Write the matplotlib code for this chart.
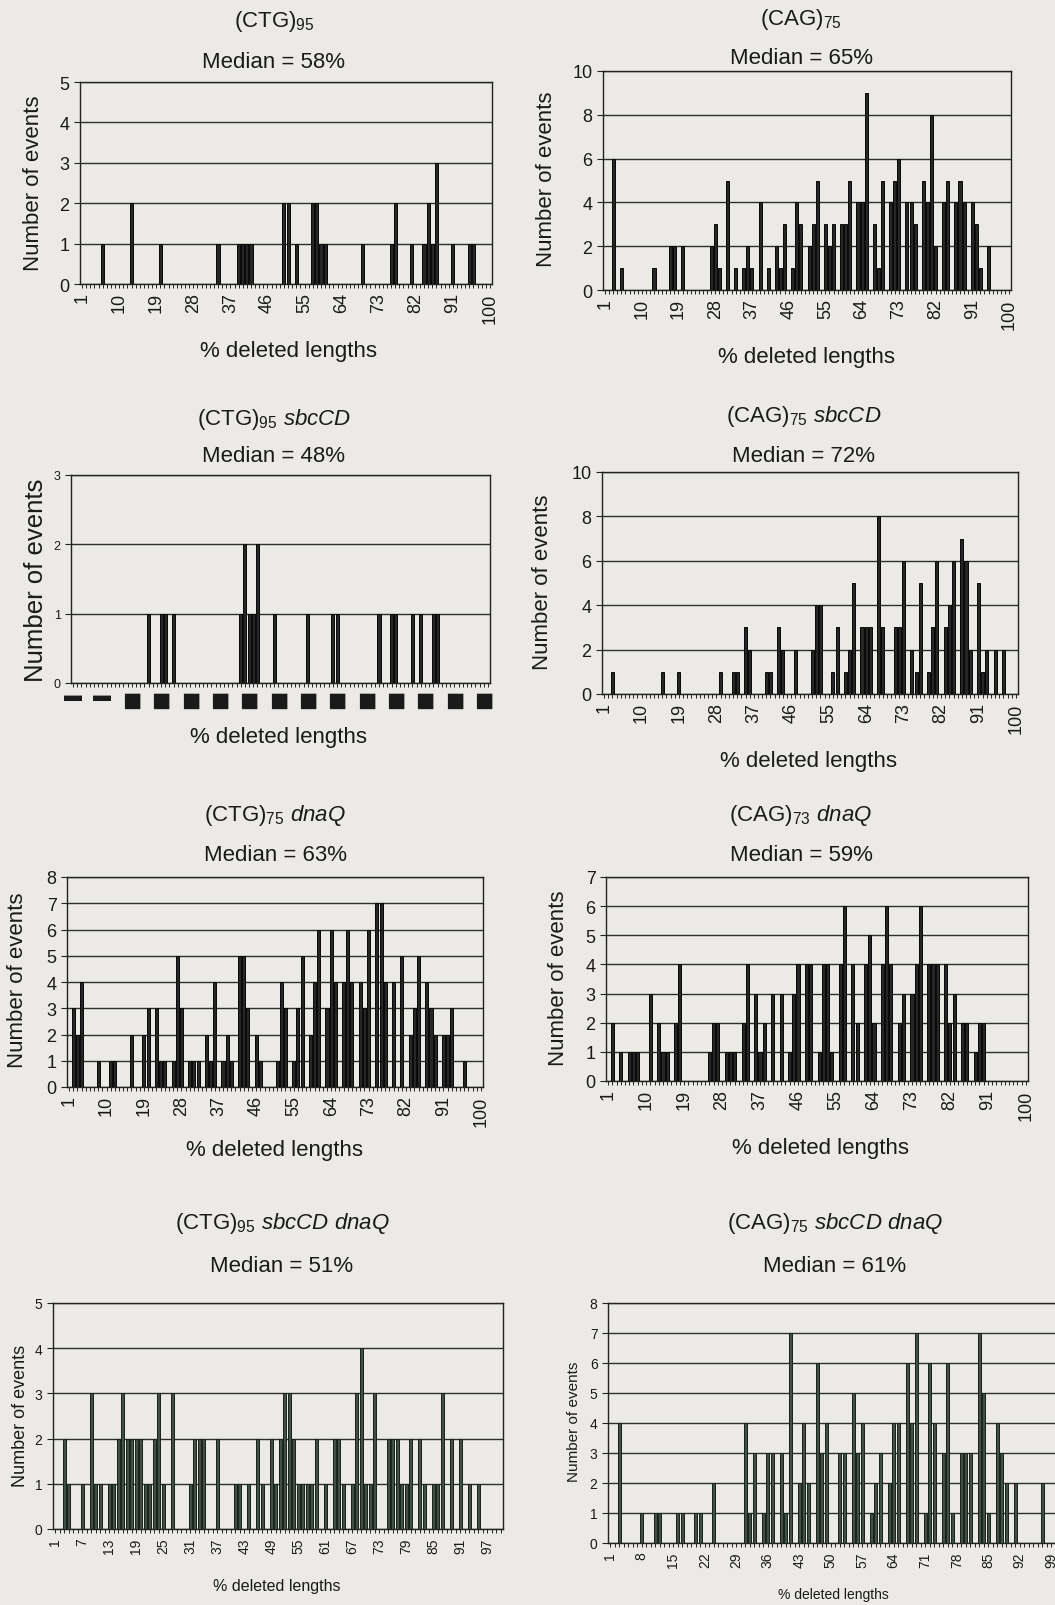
import matplotlib
matplotlib.use('Agg')
import matplotlib.pyplot as plt

plt.rcParams['font.family'] = ['Liberation Sans', 'DejaVu Sans']
plt.rcParams['mathtext.fontset'] = 'custom'
plt.rcParams['mathtext.rm'] = 'Liberation Sans'
plt.rcParams['mathtext.it'] = 'Liberation Sans:italic'

W, H = 1055, 1606
PAPER = '#ebeae6'
INK = '#1a1a1a'

# (CTG)95
ctg95_pos = [6, 13, 20, 34, 39, 40, 41, 42, 50, 51, 53, 57, 58, 59, 60, 69, 76, 77, 81, 84, 85, 86, 87, 91, 95, 96]
ctg95_n = [1, 2, 1, 1, 1, 1, 1, 1, 2, 2, 1, 2, 2, 1, 1, 1, 1, 2, 1, 1, 2, 1, 3, 1, 1, 1]

# (CAG)75
cag75_pos = [3, 5, 13, 17, 18, 20, 27, 28, 29, 31, 33, 35, 36, 37, 39, 41, 43, 44, 45, 47, 48, 49,
             51, 52, 53, 55, 56, 57, 59, 60, 61, 63, 64, 65, 67, 68, 69, 71, 72, 73, 75, 76, 77,
             79, 80, 81, 82, 84, 85, 87, 88, 89, 91, 92, 93, 95]
cag75_n = [6, 1, 1, 2, 2, 2, 2, 3, 1, 5, 1, 1, 2, 1, 4, 1, 2, 1, 3, 1, 4, 3,
           2, 3, 5, 3, 2, 3, 3, 3, 5, 4, 4, 9, 3, 1, 5, 4, 5, 6, 4, 4, 3,
           5, 4, 8, 2, 4, 5, 4, 5, 4, 4, 3, 1, 2]

# (CTG)95 sbcCD
ctg95_sbc_pos = [19, 22, 23, 25, 41, 42, 43, 44, 45, 49, 57, 63, 64, 74, 77, 78, 82, 84, 87, 88]
ctg95_sbc_n = [1, 1, 1, 1, 1, 2, 1, 1, 2, 1, 1, 1, 1, 1, 1, 1, 1, 1, 1, 1]

# (CAG)75 sbcCD
cag75_sbc_pos = [3, 15, 19, 29, 32, 33, 35, 36, 40, 41, 43, 44, 47, 51, 52, 53, 56, 57, 59, 60, 61,
                 63, 64, 65, 67, 68, 71, 72, 73, 75, 76, 77, 79, 80, 81, 83, 84, 85, 87, 88, 89,
                 91, 92, 93, 95, 97]
cag75_sbc_n = [1, 1, 1, 1, 1, 1, 3, 2, 1, 1, 3, 2, 2, 2, 4, 4, 1, 3, 1, 2, 5,
               3, 3, 3, 8, 3, 3, 3, 6, 2, 1, 5, 1, 3, 6, 3, 4, 6, 7, 6, 2,
               5, 1, 2, 2, 2]

# (CTG)75 dnaQ
ctg75_dna_pos = [2, 3, 4, 8, 11, 12, 16, 19, 20, 22, 23, 24, 26, 27, 28, 30, 31, 32, 34, 35, 36,
                 38, 39, 40, 42, 43, 44, 46, 47, 51, 52, 53, 55, 56, 57, 59, 60, 61, 63, 64, 65,
                 67, 68, 69, 71, 72, 73, 75, 76, 77, 79, 81, 83, 84, 85, 87, 88, 89, 91, 92, 93, 96]
ctg75_dna_n = [3, 2, 4, 1, 1, 1, 2, 2, 3, 3, 1, 1, 1, 5, 3, 1, 1, 1, 2, 1, 4,
               1, 2, 1, 5, 5, 3, 2, 1, 1, 4, 3, 1, 3, 5, 2, 4, 6, 3, 6, 4,
               4, 6, 4, 4, 3, 6, 7, 7, 4, 4, 5, 2, 3, 5, 4, 3, 2, 2, 2, 3, 1]

# (CAG)73 dnaQ
cag73_dna_pos = [2, 4, 6, 7, 8, 11, 13, 14, 15, 17, 18, 25, 26, 27, 29, 30, 31, 33, 34, 36, 37, 38,
                 40, 42, 44, 45, 46, 48, 49, 51, 52, 53, 54, 56, 57, 59, 60, 62, 63, 64, 66, 67,
                 68, 70, 71, 73, 74, 75, 77, 78, 79, 81, 82, 83, 85, 86, 88, 89, 90]
cag73_dna_n = [2, 1, 1, 1, 1, 3, 2, 1, 1, 2, 4, 1, 2, 2, 1, 1, 1, 2, 4, 3, 1, 2,
               3, 3, 1, 3, 4, 4, 4, 1, 4, 4, 1, 4, 6, 4, 2, 4, 5, 2, 4, 6,
               4, 2, 3, 3, 4, 6, 4, 4, 4, 4, 2, 3, 2, 2, 1, 2, 2]

# (CTG)95 sbcCD dnaQ
ctg95_both_pos = [3, 4, 7, 9, 10, 11, 13, 14, 15, 16, 17, 18, 19, 20, 21, 22, 23, 24, 25, 27,
                  31, 32, 33, 34, 37, 41, 42, 44, 46, 47, 49, 50, 51, 52, 53, 54, 55, 56, 57, 58,
                  59, 61, 63, 64, 65, 67, 68, 69, 70, 71, 72, 75, 76, 77, 78, 79, 80, 82, 83, 85,
                  86, 87, 89, 91, 93, 95]
ctg95_both_n = [2, 1, 1, 3, 1, 1, 1, 1, 2, 3, 2, 2, 2, 2, 1, 1, 2, 3, 1, 3,
                1, 2, 2, 2, 2, 1, 1, 1, 2, 1, 2, 1, 2, 3, 3, 2, 1, 1, 1, 1,
                2, 1, 2, 2, 1, 1, 3, 4, 1, 1, 3, 2, 2, 2, 1, 1, 2, 2, 1, 1,
                1, 3, 2, 2, 1, 1]

# (CAG)75 sbcCD dnaQ
cag75_both_pos = [3, 8, 11, 12, 16, 17, 20, 21, 24, 31, 32, 33, 35, 36, 37, 39, 40, 41, 43, 44, 45,
                  47, 48, 49, 52, 53, 55, 56, 57, 59, 60, 61, 63, 64, 65, 67, 68, 69, 71, 72, 73,
                  75, 76, 77, 79, 80, 81, 83, 84, 85, 87, 88, 89, 91, 97]
cag75_both_n = [4, 1, 1, 1, 1, 1, 1, 1, 2, 4, 1, 3, 1, 3, 3, 3, 1, 7, 2, 4, 2,
                6, 3, 4, 3, 3, 5, 3, 4, 1, 2, 3, 2, 4, 4, 6, 4, 7, 1, 6, 4,
                3, 6, 1, 3, 3, 3, 7, 5, 1, 4, 3, 2, 2, 2]


def box(l, t, r, b):
    return [l / W, 1 - b / H, (r - l) / W, (b - t) / H]


def draw_panel(rect, pos, n, ymax, step, tick_fs, ytick_fs=None, ystep=1,
               face='#262626', edge='#080808'):
    ax = fig.add_axes(box(*rect))
    ax.set_facecolor(PAPER)
    ax.bar(pos, n, width=0.74, color=face, edgecolor=edge, linewidth=0.7, zorder=3)
    ax.set_xlim(0.5, 100.5)
    ax.set_ylim(0, ymax)
    ax.set_yticks(range(0, ymax + 1, ystep))
    ax.yaxis.grid(True, color='#2e2e2e', linewidth=1.0, zorder=1)
    ax.set_axisbelow(True)
    ticks = list(range(1, 101, step))
    ax.set_xticks(ticks)
    ax.set_xticklabels([str(t) for t in ticks], rotation=90)
    ax.set_xticks(range(1, 101), minor=True)
    ax.tick_params(axis='x', which='both', direction='out', length=3, width=0.7,
                   colors='#222222', labelsize=tick_fs, labelcolor=INK, pad=3)
    ax.tick_params(axis='y', direction='out', length=4, width=0.8, colors='#222222',
                   labelsize=ytick_fs or tick_fs, labelcolor=INK)
    for s in ax.spines.values():
        s.set_color('#222222')
        s.set_linewidth(1.0)
    return ax


def label_panel(title, median, tx, ty, my, xl, xly, ylx, yly, fs, xfs, yfs):
    fig.text(tx / W, 1 - ty / H, title, ha='center', va='center', fontsize=fs, color=INK)
    fig.text(tx / W, 1 - my / H, median, ha='center', va='center', fontsize=fs, color=INK)
    fig.text(xl / W, 1 - xly / H, '% deleted lengths', ha='center', va='center', fontsize=xfs, color=INK)
    fig.text(ylx / W, 1 - yly / H, 'Number of events', ha='center', va='center', rotation=90,
             fontsize=yfs, color=INK)


fig = plt.figure(figsize=(W / 100, H / 100), dpi=100, facecolor=PAPER)

draw_panel((80, 83, 492, 285), ctg95_pos, ctg95_n, 5, 9, 13)
label_panel(r'(CTG)$_{95}$', 'Median = 58%', 274, 21, 62, 289, 352, 34, 183, 16, 16, 16)

draw_panel((603, 72, 1011, 291), cag75_pos, cag75_n, 10, 9, 13, ystep=2)
label_panel(r'(CAG)$_{75}$', 'Median = 65%', 801, 19, 58, 806, 358, 546, 179, 16, 16, 16)

ax3 = draw_panel((71, 476, 490, 684), ctg95_sbc_pos, ctg95_sbc_n, 3, 7, 13, ytick_fs=9)
# the scanned axis labels of this panel came out as solid blocks
ax3.set_xticklabels(['▬' if t < 10 else '■' for t in range(1, 101, 7)], rotation=0)
for t, lab in zip(range(1, 101, 7), ax3.get_xticklabels()):
    lab.set_fontsize(13 if t < 10 else 23)
ax3.tick_params(axis='x', pad=0)
label_panel(r'(CTG)$_{95}$ $\mathit{sbcCD}$', 'Median = 48%', 274, 420, 457, 279, 738, 36, 580, 16, 16, 18.5)

draw_panel((602, 473, 1018, 695), cag75_sbc_pos, cag75_sbc_n, 10, 9, 13, ystep=2)
label_panel(r'(CAG)$_{75}$ $\mathit{sbcCD}$', 'Median = 72%', 804, 417, 457, 809, 762, 543, 582, 16, 16, 16)

draw_panel((67, 878, 483, 1088), ctg75_dna_pos, ctg75_dna_n, 8, 9, 13)
label_panel(r'(CTG)$_{75}$ $\mathit{dnaQ}$', 'Median = 63%', 275, 816, 856, 274, 1151, 18, 980, 16, 16, 16)

draw_panel((606, 878, 1028, 1082), cag73_dna_pos, cag73_dna_n, 7, 9, 13)
label_panel(r'(CAG)$_{73}$ $\mathit{dnaQ}$', 'Median = 59%', 801, 816, 856, 820, 1149, 558, 978, 16, 16, 16)

draw_panel((53, 1304, 503, 1530), ctg95_both_pos, ctg95_both_n, 5, 6, 10,
           face='#405043', edge='#18221a')
label_panel(r'(CTG)$_{95}$ $\mathit{sbcCD}$ $\mathit{dnaQ}$', 'Median = 51%', 282, 1224, 1267,
            277, 1587, 21, 1416, 16, 11.5, 13)

draw_panel((608, 1304, 1058, 1544), cag75_both_pos, cag75_both_n, 8, 7, 10,
           face='#405043', edge='#18221a')
label_panel(r'(CAG)$_{75}$ $\mathit{sbcCD}$ $\mathit{dnaQ}$', 'Median = 61%', 835, 1224, 1267,
            833, 1595, 574, 1422, 16, 10, 11)

fig.savefig('out.png', dpi=100, facecolor=PAPER)
